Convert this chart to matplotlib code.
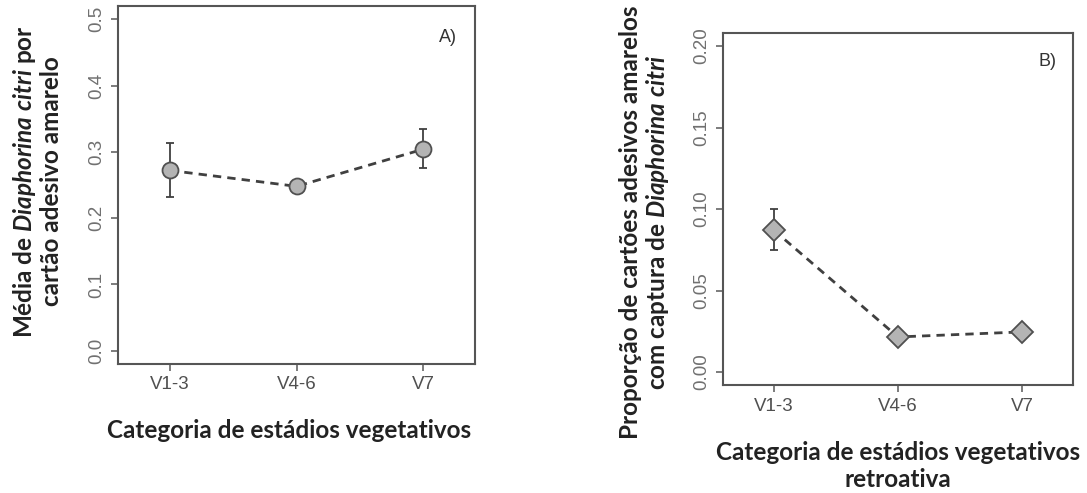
import matplotlib
matplotlib.use('Agg')
import matplotlib.pyplot as plt
import numpy as np

# data
categorias = ['V1-3', 'V4-6', 'V7']
media_a = [0.272, 0.248, 0.304]
erro_a_sup = [0.041, 0.0, 0.030]
erro_a_inf = [0.040, 0.0, 0.028]

prop_b = [0.087, 0.0215, 0.0246]
erro_b_sup = [0.013, 0.0, 0.0]
erro_b_inf = [0.012, 0.0, 0.0]

plt.rcParams['mathtext.fontset'] = 'custom'
plt.rcParams['mathtext.it'] = 'Lato:italic:bold'
plt.rcParams['mathtext.rm'] = 'Lato:bold'

BOX = '#555555'
TICK = '#666666'
LINE = '#404040'
FILL = '#b4b4b4'
LAB = 17.5

fig = plt.figure(figsize=(10.87, 4.93), dpi=100)
ax_a = fig.add_axes([0.1086, 0.2617, 0.3284, 0.726])
ax_b = fig.add_axes([0.6651, 0.219, 0.322, 0.714])

x = np.arange(1, 4)


def estilo(ax, yticks, yfmt):
    for s in ax.spines.values():
        s.set_color(BOX)
        s.set_linewidth(1.5)
    ax.set_xlim(0.59, 3.41)
    ax.set_xticks(x)
    ax.set_xticklabels(categorias, family='Liberation Sans', fontsize=13.5, color='#505050')
    ax.set_yticks(yticks)
    ax.set_yticklabels([yfmt % v for v in yticks], family='Liberation Sans',
                       fontsize=13.5, color='#707070', rotation=90, va='center')
    ax.tick_params(direction='out', length=5, width=1.2, color=TICK, pad=4)


# A)
ax_a.errorbar(x, media_a, yerr=[erro_a_inf, erro_a_sup], fmt='none',
              ecolor=LINE, elinewidth=1.3, capsize=3, capthick=1.3, zorder=2)
ax_a.plot(x, media_a, linestyle=(0, (3, 2.2)), color=LINE, linewidth=2.0,
          marker='o', markersize=11.5, markerfacecolor=FILL,
          markeredgecolor='#505050', markeredgewidth=1.3, zorder=3)
ax_a.set_ylim(-0.02, 0.52)
estilo(ax_a, [0.0, 0.1, 0.2, 0.3, 0.4, 0.5], '%.1f')
ax_a.text(0.924, 0.911, 'A)', transform=ax_a.transAxes, family='Liberation Sans',
          fontsize=13, color='#333333', ha='center', va='center')
ax_a.set_xlabel('Categoria de estádios vegetativos', family='Lato',
                fontweight='bold', fontsize=LAB, color='#222222', va='center')
ax_a.xaxis.set_label_coords(0.479, -0.187)
ax_a.set_ylabel('Média de $\\mathit{Diaphorina\\ citri}$ por\ncartão adesivo amarelo',
                family='Lato', fontweight='bold', fontsize=LAB, color='#222222',
                linespacing=1.12, va='center')
ax_a.yaxis.set_label_coords(-0.228, 0.51)

# B)
ax_b.errorbar(x, prop_b, yerr=[erro_b_inf, erro_b_sup], fmt='none',
              ecolor=LINE, elinewidth=1.3, capsize=3, capthick=1.3, zorder=2)
ax_b.plot(x, prop_b, linestyle=(0, (3, 2.2)), color=LINE, linewidth=2.0,
          marker='D', markersize=11, markerfacecolor=FILL,
          markeredgecolor='#505050', markeredgewidth=1.3, zorder=3)
ax_b.set_ylim(-0.008, 0.208)
estilo(ax_b, [0.0, 0.05, 0.10, 0.15, 0.20], '%.2f')
ax_b.text(0.926, 0.918, 'B)', transform=ax_b.transAxes, family='Liberation Sans',
          fontsize=13, color='#333333', ha='center', va='center')
ax_b.set_xlabel('Categoria de estádios vegetativos\nretroativa', family='Lato',
                fontweight='bold', fontsize=LAB, color='#222222',
                linespacing=1.2, va='center')
ax_b.xaxis.set_label_coords(0.5, -0.230)
ax_b.set_ylabel('Proporção de cartões adesivos amarelos\ncom captura de $\\mathit{Diaphorina\\ citri}$',
                family='Lato', fontweight='bold', fontsize=LAB, color='#222222',
                linespacing=1.1, va='center')
ax_b.yaxis.set_label_coords(-0.223, 0.462)

fig.savefig('out.png', dpi=100)
